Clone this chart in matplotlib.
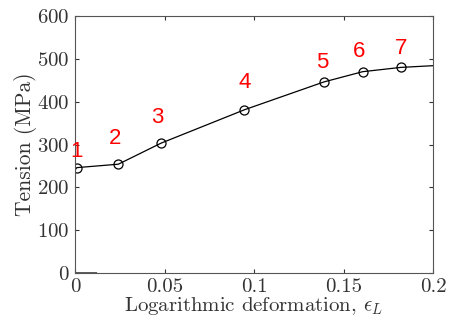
import matplotlib
matplotlib.use('Agg')
import matplotlib.pyplot as plt

plt.rcParams['font.family'] = 'serif'
plt.rcParams['font.serif'] = ['cmr10']
plt.rcParams['mathtext.fontset'] = 'cm'
plt.rcParams['axes.formatter.use_mathtext'] = True

# curve
strain = [0.012, 0.0, 0.0, 0.001, 0.0242, 0.048, 0.0946, 0.139, 0.1607, 0.182, 0.2]
stress = [0, 0, 240, 246, 254, 303, 381, 446, 470, 480, 484]

# marked states 1..7
pt_strain = [0.001, 0.0242, 0.048, 0.0946, 0.139, 0.1607, 0.182]
pt_stress = [246, 254, 303, 381, 446, 470, 480]
pt_labels = ['1', '2', '3', '4', '5', '6', '7']
# label offsets in points (dx, dy)
label_offsets = [(0, 11.5), (-2.4, 18.7), (-2.9, 18.7), (0, 19.4), (-1.2, 13.7), (-2.7, 14.4), (0, 13.7)]

fig = plt.figure(figsize=(4.49, 3.20), dpi=100)
ax = fig.add_axes([75 / 449, 47 / 320, 358 / 449, 257 / 320])

grey = '#333333'
ax.plot(strain, stress, color='black', lw=0.9)
ax.plot(pt_strain, pt_stress, 'o', mfc='none', mec='black', ms=6.5, mew=0.9)

for x, y, lab, off in zip(pt_strain, pt_stress, pt_labels, label_offsets):
    ax.annotate(lab, (x, y), xytext=off, textcoords='offset points',
                ha='center', va='center', color='red', fontsize=16,
                family='Liberation Sans')

ax.set_xlim(0, 0.2)
ax.set_ylim(0, 600)
ax.set_xticks([0, 0.05, 0.1, 0.15, 0.2])
ax.set_xticklabels(['0', '0.05', '0.1', '0.15', '0.2'])
ax.set_yticks(range(0, 601, 100))

ax.tick_params(direction='in', length=3, top=True, right=True,
               labelsize=15, colors=grey, labelcolor=grey)
ax.tick_params(axis='y', pad=4)
ax.tick_params(axis='x', pad=4)
for s in ax.spines.values():
    s.set_color('#555555')
    s.set_linewidth(0.8)

ax.set_xlabel(r'Logarithmic deformation, $\epsilon_L$', fontsize=15, color=grey, labelpad=-1)
ax.set_ylabel('Tension (MPa)', fontsize=15.5, color=grey, labelpad=0)

fig.savefig('out.png', dpi=100)
